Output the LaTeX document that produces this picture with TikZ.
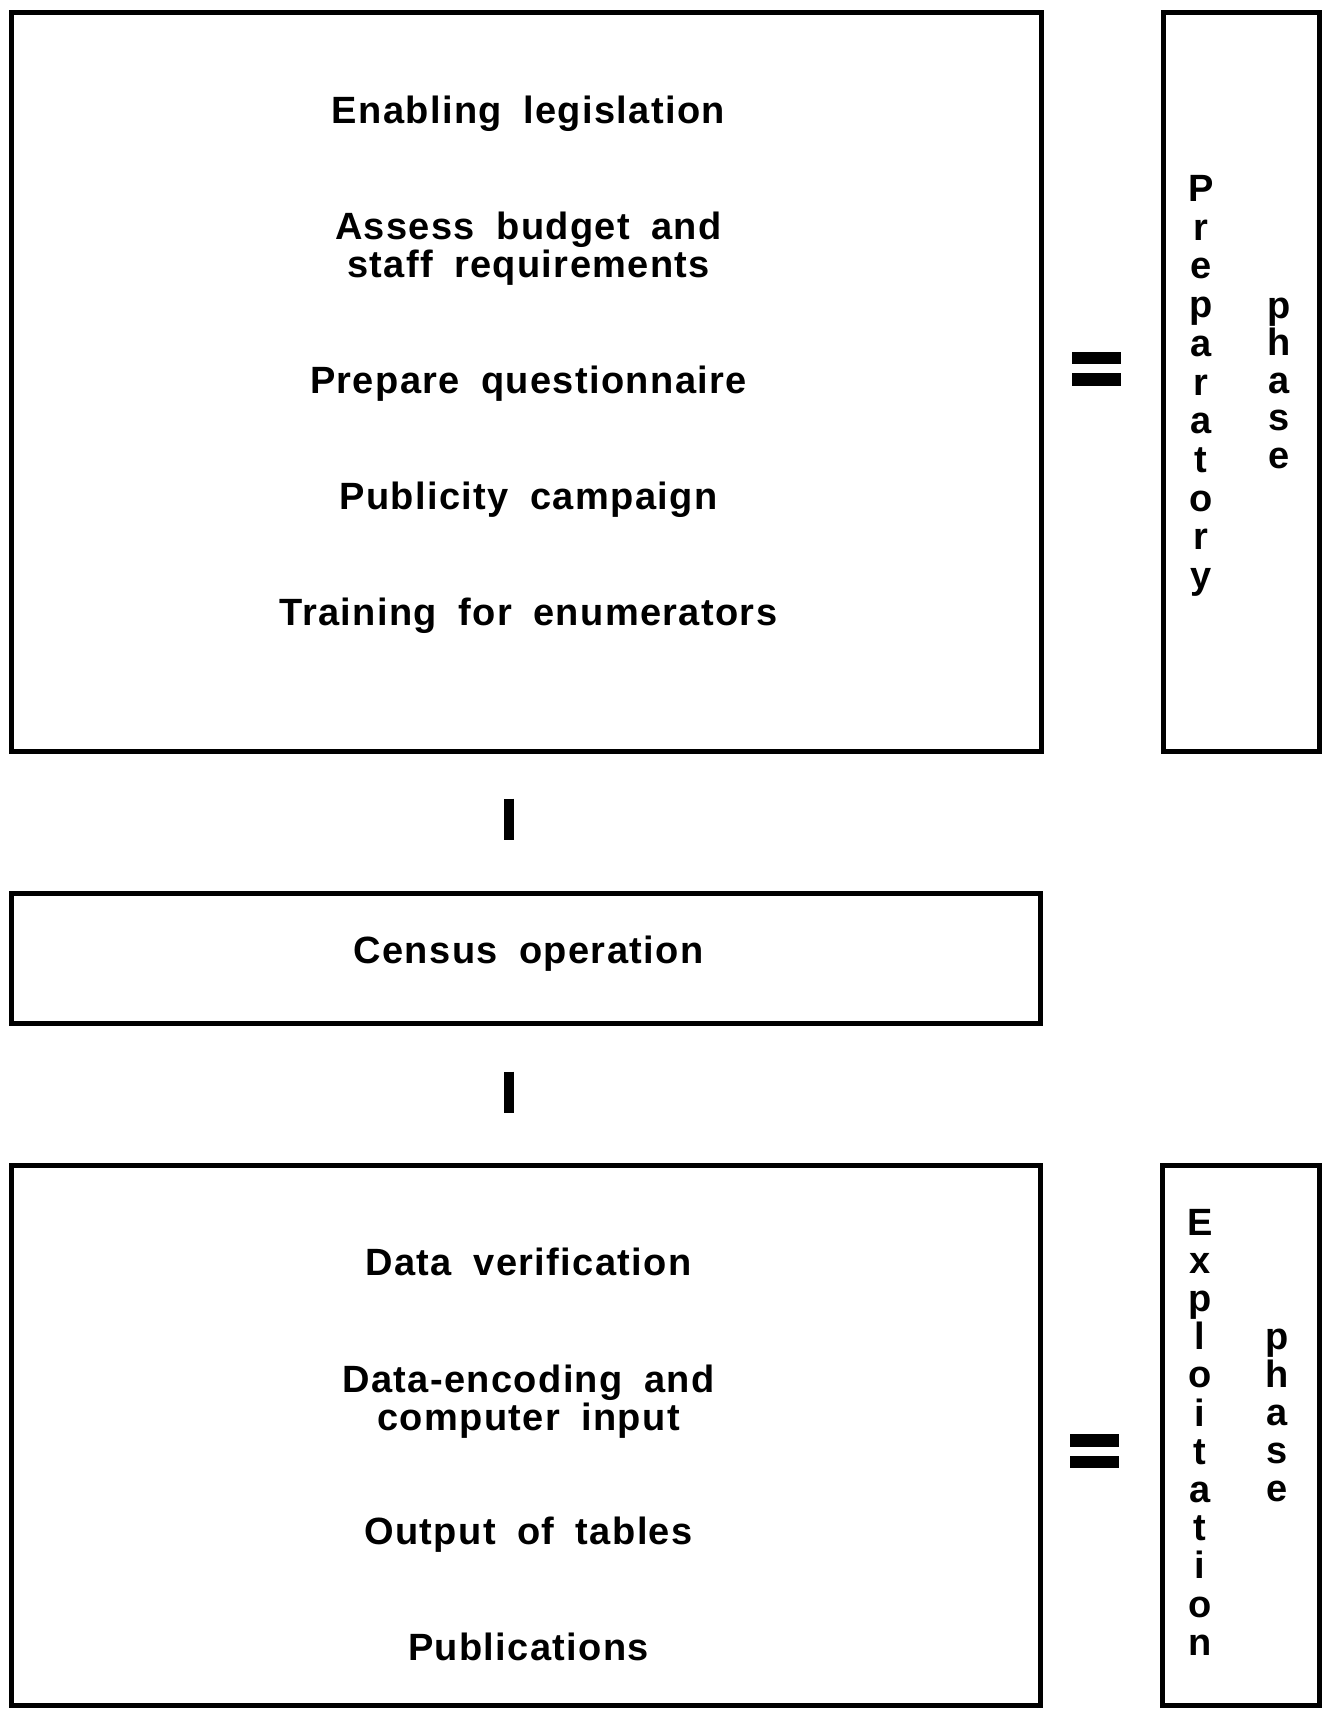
\documentclass[tikz,border=0pt]{standalone}
\usepackage{fontspec}
\setmainfont{Liberation Sans}[LetterSpace=3.6,WordSpace=1.8]
\begin{document}
\begin{tikzpicture}[x=1pt,y=-1pt,
  box/.style={draw, line width=5pt, rectangle, inner sep=0pt},
  item/.style={font=\fontsize{38}{38}\selectfont\bfseries, align=center, anchor=base, inner sep=0pt},
  vletter/.style={font=\fontsize{38}{38}\selectfont\bfseries, anchor=base, inner sep=0pt},
  bar/.style={line width=10pt},
  eqsign/.style={minimum width=49pt, minimum height=34pt, inner sep=0pt,
    path picture={
      \fill (path picture bounding box.north west) rectangle ([yshift=-12.5pt]path picture bounding box.north east);
      \fill (path picture bounding box.south west) rectangle ([yshift=12.5pt]path picture bounding box.south east);}}
]
\useasboundingbox (0,0) rectangle (1322,1711);

% boxes
\node[box, minimum width=1030pt, minimum height=739pt] (prep) at (526.5,381.5) {};
\node[box, minimum width=156pt, minimum height=739pt] (prepphase) at (1241,381.5) {};
\node[box, minimum width=1028.5pt, minimum height=130pt] (census) at (525.75,958) {};
\node[box, minimum width=1028.5pt, minimum height=540pt] (exploit) at (525.75,1435) {};
\node[box, minimum width=157pt, minimum height=540pt] (explphase) at (1240.5,1435) {};

% equals signs
\node[eqsign] (eq1) at (1096.5,368.5) {};
\node[eqsign] (eq2) at (1094.5,1451) {};

% connectors
\coordinate (barx) at (509,0);
\draw[bar, shorten <=45pt, shorten >=51pt] (prep.south -| barx) -- (census.north -| barx);
\draw[bar, shorten <=46pt, shorten >=50pt] (census.south -| barx) -- (exploit.north -| barx);

% preparatory items
\node[item] (t1) at (528.5,123.5) {Enabling legislation};
\node[item, anchor=center] (t2) at (528.5,248.5) {Assess budget and\\staff requirements};
\node[item] (t3) at (528.5,393.5) {Prepare questionnaire};
\node[item] (t4) at (528.5,509.5) {Publicity campaign};
\node[item] (t5) at (528.5,625.5) {Training for enumerators};

% census
\node[item] (t6) at (528.5,963.5) {Census operation};

% exploitation items
\node[item] (t7) at (528.5,1275.5) {Data verification};
\node[item, anchor=center] (t8) at (528.5,1401.5) {Data-encoding and\\computer input};
\node[item] (t9) at (528.5,1544.5) {Output of tables};
\node[item] (t10) at (528.5,1660.5) {Publications};

% vertical labels
\foreach \l [count=\i from 0] in {P,r,e,p,a,r,a,t,o,r,y}
  \node[vletter] (pw\i) at (1201,{201.5+38.7*\i}) {\l};
\foreach \l [count=\i from 0] in {p,h,a,s,e}
  \node[vletter] (pp\i) at (1279,{318+37.6*\i}) {\l};
\foreach \l [count=\i from 0] in {E,x,p,l,o,i,t,a,t,i,o,n}
  \node[vletter] (ew\i) at (1200,{1235+38.2*\i}) {\l};
\foreach \l [count=\i from 0] in {p,h,a,s,e}
  \node[vletter] (ep\i) at (1277,{1349.5+37.9*\i}) {\l};
\end{tikzpicture}
\end{document}
